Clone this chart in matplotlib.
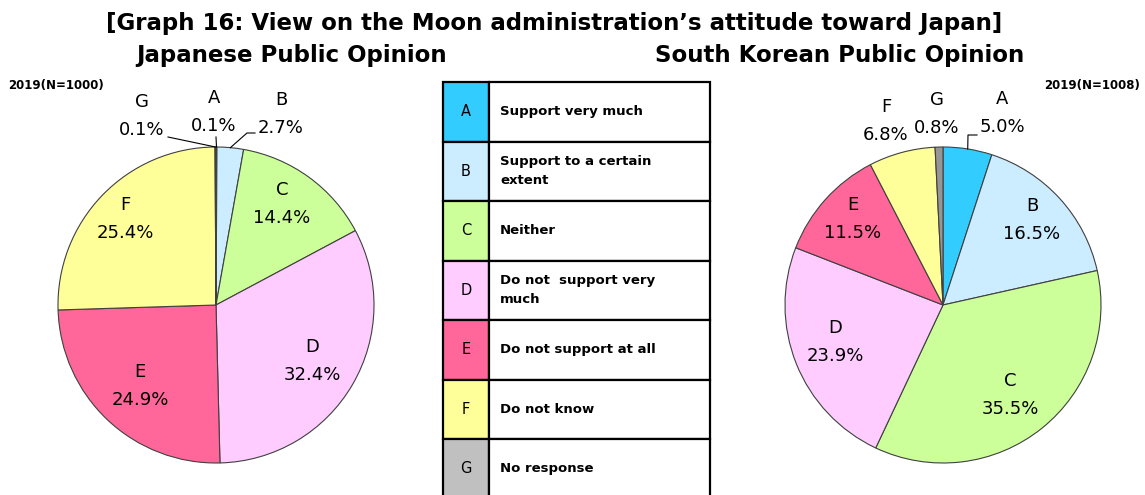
import numpy as np
import matplotlib.pyplot as plt
from matplotlib.patches import Rectangle

letters = ["A", "B", "C", "D", "E", "F", "G"]
answers = ["Support very much", "Support to a certain\nextent", "Neither",
           "Do not  support very\nmuch", "Do not support at all", "Do not know", "No response"]
japan = [0.1, 2.7, 14.4, 32.4, 24.9, 25.4, 0.1]
korea = [5.0, 16.5, 35.5, 23.9, 11.5, 6.8, 0.8]
colors = ["#33CCFF", "#CCECFF", "#CCFF99", "#FFCCFF", "#FF6699", "#FFFF99", "#C0C0C0"]
korea_colors = colors[:6] + ["#969696"]

W, H = 1145, 495
fig = plt.figure(figsize=(W / 100, H / 100), dpi=100)
ax = fig.add_axes([0, 0, 1, 1])

def Y(y):
    return H - y

R = 158
c_jp = (216, 305)
c_kr = (943, 305)

wp = dict(edgecolor="#404040", linewidth=0.8)
ax.pie(japan, colors=colors, startangle=90, counterclock=False,
       center=(c_jp[0], Y(c_jp[1])), radius=R, wedgeprops=wp)
ax.pie(korea, colors=korea_colors, startangle=90, counterclock=False,
       center=(c_kr[0], Y(c_kr[1])), radius=R, wedgeprops=wp)

ax.set_xlim(0, W)
ax.set_ylim(0, H)
ax.set_aspect("equal")
ax.axis("off")

lab_font = dict(fontsize=13, family="DejaVu Sans", ha="center", va="center", linespacing=1.7)

# label positions (pixel coords of centre of the two-line label)
jp_pos = [(214, 112), (281, 114), (282, 204), (312, 361), (140, 386), (125, 219), (142, 116)]
kr_pos = [(1002, 113), (1032, 220), (1010, 395), (835, 342), (853, 219), (886, 121), (937, 114)]

for k, (x, y) in enumerate(jp_pos):
    ax.text(x, Y(y), f"{letters[k]}\n{japan[k]:.1f}%", **lab_font)
for k, (x, y) in enumerate(kr_pos):
    ax.text(x, Y(y), f"{letters[k]}\n{korea[k]:.1f}%", **lab_font)

# leader lines for the small slices
def leader(center, vals, idx, pts):
    cum = np.cumsum([0] + vals)
    ang = np.deg2rad(90 - (cum[idx] + vals[idx] / 2) * 3.6)
    x0 = center[0] + R * np.cos(ang)
    y0 = Y(center[1]) + R * np.sin(ang)
    xs = [x0] + [p[0] for p in pts]
    ys = [y0] + [Y(p[1]) for p in pts]
    ax.plot(xs, ys, color="black", lw=0.8)

leader(c_jp, japan, 0, [(216, 137)])
leader(c_jp, japan, 1, [(247, 133), (255, 133)])
leader(c_jp, japan, 6, [(168, 137)])
leader(c_kr, korea, 0, [(968, 135), (977, 135)])

# titles
tfont = dict(family="DejaVu Sans", fontweight="bold", fontsize=16.5)
ax.text(554, Y(30), "[Graph 16: View on the Moon administration\u2019s attitude toward Japan]",
        ha="center", va="baseline", **tfont)
ax.text(292, Y(62), "Japanese Public Opinion", ha="center", va="baseline", **tfont)
ax.text(840, Y(62), "South Korean Public Opinion", ha="center", va="baseline", **tfont)
ax.text(8, Y(86), "2019(N=1000)", ha="left", va="center", fontsize=8.5, fontweight="bold")
ax.text(1140, Y(86), "2019(N=1008)", ha="right", va="center", fontsize=8.5, fontweight="bold")

# legend table
x0, x1, x2 = 443, 489, 710
top, rh = 82, 59.5
for k in range(len(letters)):
    yt = top + k * rh
    ax.add_patch(Rectangle((x0, Y(yt + rh)), x1 - x0, rh, facecolor=colors[k],
                           edgecolor="black", lw=1.6))
    ax.add_patch(Rectangle((x1, Y(yt + rh)), x2 - x1, rh, facecolor="white",
                           edgecolor="black", lw=1.6))
    ax.text((x0 + x1) / 2, Y(yt + rh / 2), letters[k], ha="center", va="center", fontsize=10.5)
    ax.text(x1 + 11, Y(yt + rh / 2), answers[k], ha="left", va="center",
            fontsize=9.5, fontweight="bold", linespacing=1.6)

fig.savefig("out.png", dpi=100)
